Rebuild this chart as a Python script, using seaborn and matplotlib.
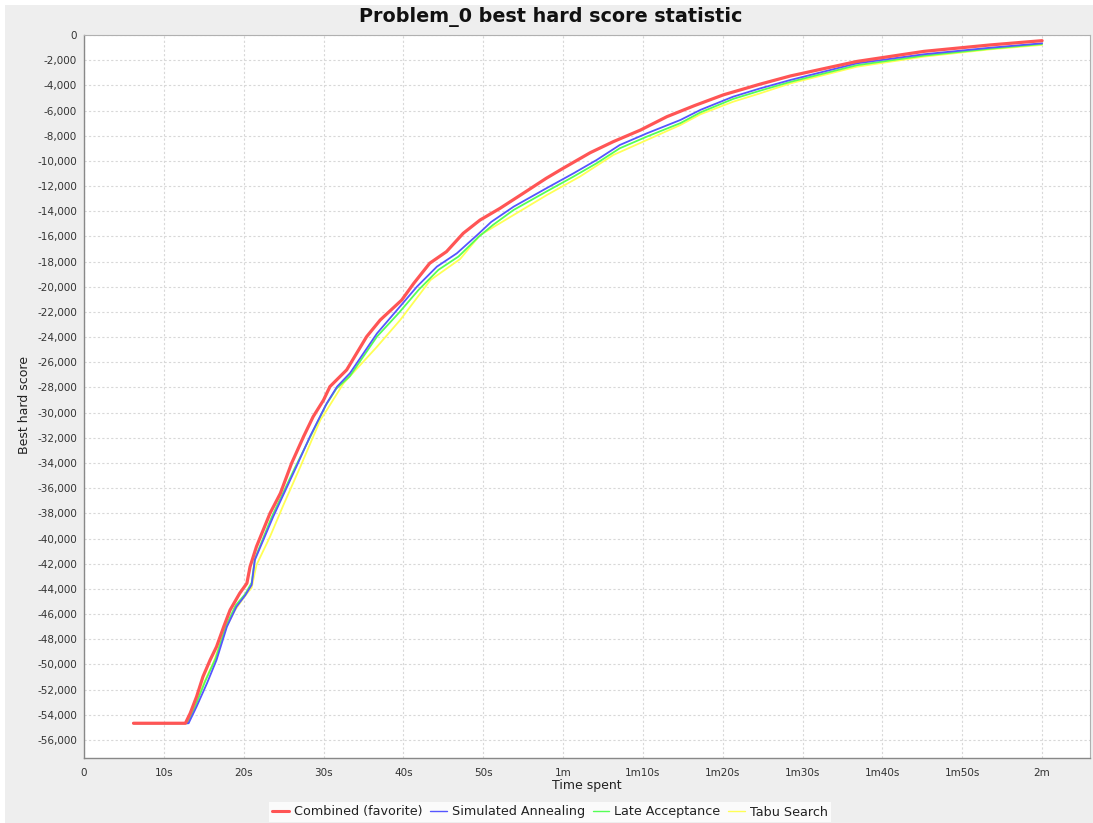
import matplotlib
matplotlib.use("Agg")
import matplotlib.pyplot as plt
from matplotlib.patches import Rectangle
from matplotlib.lines import Line2D
from matplotlib.ticker import FuncFormatter
import seaborn as sns
import pandas as pd

# ---------------- data (time in seconds, best hard score) ----------------
series_names = ["Combined (favorite)", "Simulated Annealing", "Late Acceptance", "Tabu Search"]
series_colors = ["#FF5555", "#5555FF", "#55FF55", "#FFFF55"]

combined_t = [6.2, 12.7, 13.3, 14.1, 14.9, 15.8, 16.6, 17.5, 18.3, 19.5, 20.4, 20.8, 21.6, 23.3,
              24.6, 26.0, 27.5, 28.7, 30.0, 30.8, 32.9, 35.4, 37.1, 39.8, 41.3, 43.3, 45.4, 47.5,
              49.6, 52.1, 55.0, 57.9, 60.0, 63.4, 66.3, 69.7, 73.0, 76.5, 80.1, 84.7, 88.5, 96.8,
              105.2, 113.5, 120.0]
combined_v = [-54670, -54670, -53880, -52560, -50970, -49640, -48590, -47000, -45670, -44350,
              -43550, -42230, -40640, -37990, -36400, -34020, -31900, -30320, -29000, -27930,
              -26600, -23960, -22640, -21050, -19730, -18130, -17210, -15750, -14700, -13770,
              -12580, -11380, -10590, -9350, -8470, -7550, -6490, -5600, -4750, -3900, -3250,
              -2100, -1300, -790, -450]

sa_t = [6.2, 13.1, 14.1, 15.4, 16.6, 17.9, 19.1, 20.2, 21.0, 21.4, 23.7, 26.6, 28.3, 30.4, 31.7,
        33.3, 36.7, 39.2, 41.7, 44.2, 46.7, 49.4, 51.0, 53.8, 57.9, 61.3, 64.2, 67.1, 70.5, 74.7,
        77.2, 81.3, 84.7, 88.5, 96.8, 105.2, 113.5, 120.0]
sa_v = [-54670, -54670, -53350, -51500, -49640, -47000, -45410, -44500, -43680, -41700, -38260,
        -34290, -31900, -29260, -27930, -26870, -23700, -21850, -19990, -18400, -17340, -15800,
        -14850, -13640, -12180, -10990, -9930, -8740, -7810, -6750, -5950, -4900, -4240, -3570,
        -2250, -1530, -1010, -660]

la_t = [6.2, 13.0, 14.0, 15.2, 16.5, 17.8, 19.0, 20.2, 21.0, 21.4, 23.5, 26.4, 28.2, 30.3, 31.6,
        33.3, 36.7, 39.4, 41.9, 44.4, 46.9, 49.4, 51.2, 53.8, 57.9, 61.3, 64.2, 67.1, 70.5, 74.7,
        77.2, 81.3, 84.7, 88.5, 96.8, 105.2, 113.5, 120.0]
la_v = [-54670, -54670, -53200, -51300, -49500, -46900, -45300, -44400, -43500, -41600, -38300,
        -34400, -32100, -29400, -28100, -27100, -23950, -22100, -20250, -18650, -17600, -16050,
        -15100, -13900, -12440, -11250, -10190, -9000, -8070, -7000, -6150, -5080, -4420, -3720,
        -2400, -1640, -1090, -720]

tabu_t = [6.2, 12.9, 13.8, 15.0, 16.3, 17.6, 18.9, 20.0, 21.0, 21.6, 23.3, 25.0, 27.1, 29.6, 30.4,
          32.5, 36.7, 39.6, 43.4, 47.1, 49.6, 53.8, 58.0, 62.1, 66.3, 70.5, 74.7, 77.2, 81.3, 84.7,
          88.5, 96.8, 105.2, 113.5, 120.0]
tabu_v = [-54670, -54670, -53500, -51500, -49700, -47300, -45700, -44700, -43900, -42100, -39850,
          -37300, -34290, -30580, -29800, -27670, -24760, -22640, -19460, -17800, -15900, -14300,
          -12700, -11250, -9530, -8340, -7150, -6300, -5300, -4630, -3840, -2520, -1720, -1140,
          -790]

x_ticks = [0, 10, 20, 30, 40, 50, 60, 70, 80, 90, 100, 110, 120]
y_ticks = list(range(0, -56001, -2000))

title = "Problem_0 best hard score statistic"
x_label = "Time spent"
y_label = "Best hard score"

# ---------------- styling ----------------
sns.set_style("white")
plt.rcParams["font.family"] = ["DejaVu Sans"]

W, H = 1093, 823
fig = plt.figure(figsize=(W / 100, H / 100), dpi=100, facecolor="white")
# grey chart panel (inset 5px on left/top)
fig.patches.append(Rectangle((5 / W, 0), 1 - 5 / W, 1 - 5 / H, transform=fig.transFigure,
                             facecolor="#EEEEEE", edgecolor="none", zorder=-10))

left, right, top, bottom = 84, 1090, 35, 758
ax = fig.add_axes([left / W, 1 - bottom / H, (right - left) / W, (bottom - top) / H])
ax.set_facecolor("white")

data = {
    series_names[0]: (combined_t, combined_v),
    series_names[1]: (sa_t, sa_v),
    series_names[2]: (la_t, la_v),
    series_names[3]: (tabu_t, tabu_v),
}
widths = [2.3, 1.3, 1.3, 1.3]

# draw in reverse so first series is on top
for i in reversed(range(len(series_names))):
    name = series_names[i]
    t, v = data[name]
    df = pd.DataFrame({"t": t, "v": v})
    sns.lineplot(data=df, x="t", y="v", ax=ax, color=series_colors[i], lw=widths[i],
                 estimator=None, sort=False, legend=False, zorder=3 + (len(series_names) - i))

ax.set_xlim(0, 126.0)
ax.set_ylim(-57430, 0)
ax.set_xticks(x_ticks)
ax.set_yticks(y_ticks)


def fmt_time(s, pos=None):
    s = int(round(s))
    if s == 0:
        return "0"
    m, sec = divmod(s, 60)
    if m == 0:
        return f"{sec}s"
    if sec == 0:
        return f"{m}m"
    return f"{m}m{sec}s"


ax.xaxis.set_major_formatter(FuncFormatter(fmt_time))
ax.yaxis.set_major_formatter(FuncFormatter(lambda v, p: f"{int(v):,}"))
ax.tick_params(axis="both", labelsize=7.5, labelcolor="#333333", length=2, width=0.8,
               color="#888888", direction="out", pad=3)
ax.tick_params(axis="x", pad=5)

ax.grid(True, color="#D8D8D8", linestyle=(0, (2, 2)), linewidth=0.8)
ax.set_axisbelow(True)
for side in ["top", "right"]:
    ax.spines[side].set_color("#B0B0B0")
    ax.spines[side].set_linewidth(0.8)
for side in ["left", "bottom"]:
    ax.spines[side].set_color("#888888")
    ax.spines[side].set_linewidth(1.0)

ax.set_xlabel("")
ax.set_ylabel("")
fig.text((left + right) / 2 / W, 1 - 786 / H, x_label, ha="center", va="center", fontsize=9,
         color="#222222")
fig.text(25 / W, 1 - 405 / H, y_label, ha="center", va="center", rotation=90, fontsize=9,
         color="#222222")
fig.text(551 / W, 1 - 17 / H, title, ha="center", va="center", fontsize=13.8,
         fontweight="bold", color="#111111")

handles = [Line2D([0], [0], color=c, lw=(2.2 if i == 0 else 1.0))
           for i, c in enumerate(series_colors)]
leg = fig.legend(handles, series_names, loc="center", bbox_to_anchor=(550 / W, 1 - 812 / H),
                 ncol=4, fontsize=9.2, frameon=True, fancybox=False, handlelength=1.3,
                 handletextpad=0.4, columnspacing=0.6, borderpad=0.25, borderaxespad=0)
leg.get_frame().set_facecolor("white")
leg.get_frame().set_edgecolor("white")
leg.get_frame().set_linewidth(0)
for txt in leg.get_texts():
    txt.set_color("#222222")

fig.savefig("out.png", dpi=100, facecolor="white")
